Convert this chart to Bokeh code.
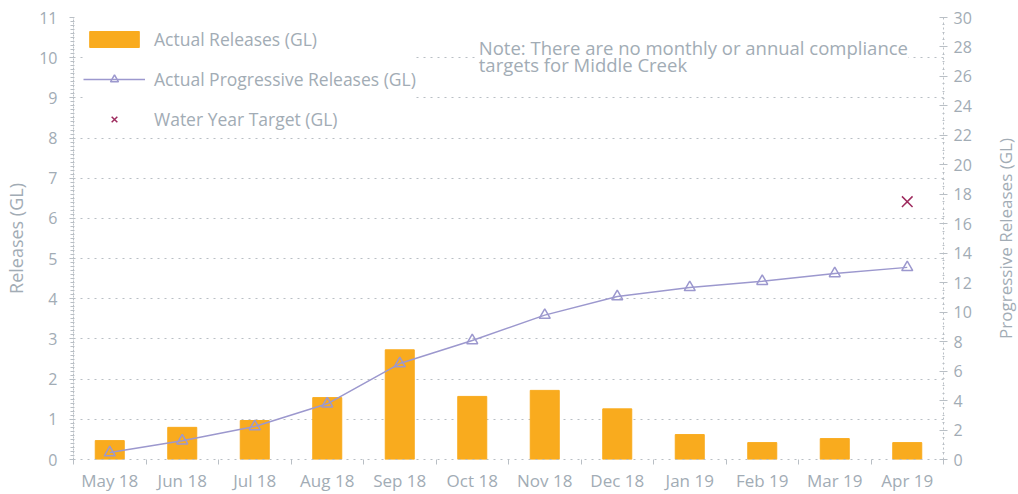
import math
from bokeh.plotting import figure
from bokeh.layouts import row
from bokeh.models import (Range1d, LinearAxis, FixedTicker, SingleIntervalTicker,
                          Legend, LegendItem, Label)
from bokeh.embed import file_html
from bokeh.resources import INLINE

months = ["May 18", "Jun 18", "Jul 18", "Aug 18", "Sep 18", "Oct 18",
          "Nov 18", "Dec 18", "Jan 19", "Feb 19", "Mar 19", "Apr 19"]
actual_releases = [0.47, 0.80, 0.97, 1.54, 2.73, 1.57, 1.72, 1.26, 0.62, 0.42, 0.52, 0.42]
progressive_releases = [0.47, 1.27, 2.24, 3.78, 6.51, 8.08, 9.80, 11.06, 11.68, 12.10, 12.62, 13.04]
target_month = ["Apr 19"]
water_year_target = [17.5]

FONT = "Open Sans"
GREY = "#A2ACB5"
GRID = "#B9BFC5"
BAR = "#F9AB1E"
LINE = "#9C98CE"
TARGET = "#9E2B5E"

xpos = [i + 0.5 for i in range(len(months))]
tpos = [months.index(m) + 0.5 for m in target_month]

p = figure(width=992, height=494, x_range=Range1d(0, 12), y_range=Range1d(0, 11),
           output_backend="svg", toolbar_location=None,
           min_border_left=73, min_border_right=49, min_border_top=17, min_border_bottom=34)
p.extra_y_ranges = {"prog": Range1d(0, 30)}
p.outline_line_color = None
p.background_fill_color = "white"

bars = p.vbar(x=xpos, top=actual_releases, width=0.4, color=BAR)
line = p.line(x=xpos, y=progressive_releases, y_range_name="prog", color=LINE, line_width=1.5)
tri = p.scatter(x=xpos, y=progressive_releases, y_range_name="prog", marker="triangle",
                size=11, line_color=LINE, fill_color=None, line_width=1.5)
tgt = p.scatter(x=tpos, y=water_year_target, y_range_name="prog", marker="x",
                size=15, line_color=TARGET, line_width=1.5)

# x axis
xa = p.xaxis[0]
xa.ticker = FixedTicker(ticks=xpos, minor_ticks=list(range(13)))
xa.major_label_overrides = {x: m for x, m in zip(xpos, months)}
xa.major_tick_out = 0
xa.major_tick_in = 0
xa.minor_tick_out = 5
xa.minor_tick_in = 0
xa.minor_tick_line_color = GRID
xa.axis_line_color = GRID
xa.axis_line_dash = "2 5"
xa.major_label_text_color = GREY
xa.major_label_text_font = FONT
xa.major_label_text_font_size = "17px"
xa.major_label_standoff = 4

# left axis
ya = p.yaxis[0]
ya.ticker = SingleIntervalTicker(interval=1, num_minor_ticks=10)
ya.axis_label = "Releases (GL)"
ya.axis_line_color = GRID
ya.axis_line_dash = "2 1"
ya.major_tick_out = 4
ya.major_tick_in = 0
ya.minor_tick_out = 3
ya.minor_tick_in = 1
ya.major_tick_line_color = GRID
ya.minor_tick_line_color = GRID
ya.major_label_text_color = GREY
ya.major_label_text_font = FONT
ya.major_label_text_font_size = "16px"
ya.major_label_standoff = 12
ya.axis_label_text_color = GREY
ya.axis_label_text_font = FONT
ya.axis_label_text_font_size = "18px"
ya.axis_label_text_font_style = "normal"
ya.axis_label_standoff = 8

# right axis (ticks only; title drawn in a slim side panel so it reads upward)
ra = LinearAxis(y_range_name="prog", ticker=SingleIntervalTicker(interval=2, num_minor_ticks=4))
ra.axis_line_color = GRID
ra.axis_line_dash = "2 3"
ra.major_tick_out = 4
ra.major_tick_in = 4
ra.minor_tick_out = 1
ra.minor_tick_in = 1
ra.major_tick_line_color = GRID
ra.minor_tick_line_color = GRID
ra.major_label_text_color = GREY
ra.major_label_text_font = FONT
ra.major_label_text_font_size = "16px"
ra.major_label_standoff = 6
p.add_layout(ra, "right")

p.xgrid.grid_line_color = None
p.ygrid.grid_line_color = GRID
p.ygrid.grid_line_dash = "2 5"
p.ygrid.grid_line_width = 1

p.add_layout(Label(x=5.59, y=10.25, text="Note: There are no monthly or annual compliance",
                   text_font=FONT, text_font_size="18.5px", text_color=GREY,
                   text_baseline="middle",
                   background_fill_color="white", background_fill_alpha=1.0))
p.add_layout(Label(x=5.59, y=9.83, text="targets for Middle Creek",
                   text_font=FONT, text_font_size="18.5px", text_color=GREY,
                   text_baseline="middle"))

legend = Legend(items=[
    LegendItem(label="Actual Releases (GL)", renderers=[bars]),
    LegendItem(label="Actual Progressive Releases (GL)", renderers=[line, tri]),
    LegendItem(label="Water Year Target (GL)", renderers=[tgt]),
], location="top_left")
legend.margin = 10
legend.padding = 8
legend.spacing = 16
legend.glyph_width = 62
legend.glyph_height = 20
legend.label_height = 20
legend.label_standoff = 9
legend.label_text_font = FONT
legend.label_text_font_size = "17.5px"
legend.label_text_color = GREY
legend.border_line_color = None
legend.background_fill_color = "white"
legend.background_fill_alpha = 1.0
p.add_layout(legend)

# slim side panel holding the right-hand axis title
side = figure(width=26, height=494, x_range=Range1d(0, 1), y_range=Range1d(0, 494),
              output_backend="svg", toolbar_location=None,
              x_axis_location=None, y_axis_location=None,
              min_border_left=0, min_border_right=0, min_border_top=0, min_border_bottom=0)
side.outline_line_color = None
side.xgrid.grid_line_color = None
side.ygrid.grid_line_color = None
side.add_layout(Label(x=0.5, y=494 - 247, text="Progressive Releases (GL)", angle=math.pi / 2,
                      text_font=FONT, text_font_size="17px", text_color=GREY,
                      text_align="center", text_baseline="middle"))

layout = row(p, side, spacing=0)
open("out.html", "w").write(file_html(layout, INLINE))
